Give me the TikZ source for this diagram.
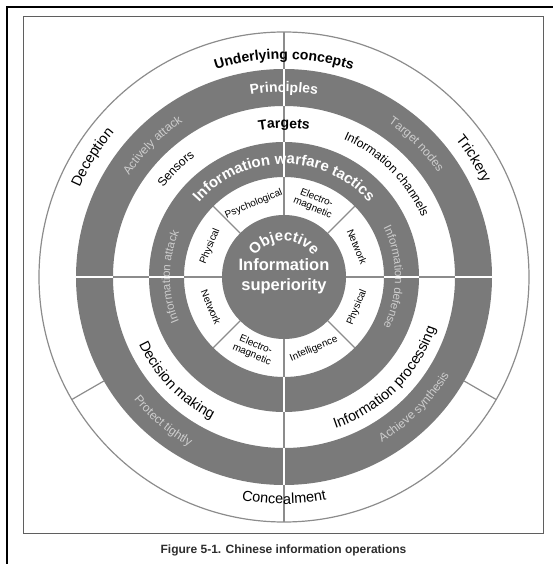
\documentclass[tikz,border=0pt]{standalone}
\usepackage{fontspec}
\setmainfont{Liberation Sans}
\usetikzlibrary{decorations.text}

\definecolor{ringgray}{RGB}{122,122,122}
\definecolor{linegray}{RGB}{140,140,140}
\definecolor{softlabel}{RGB}{205,205,205}
\definecolor{framegray}{RGB}{95,95,95}
\definecolor{captiongray}{RGB}{45,45,45}

\newcommand\fntHead{\fontsize{14}{16}\selectfont\bfseries}
\newcommand\fntWhite{\color{white}\fontsize{14}{16}\selectfont\bfseries}
\newcommand\fntTactic{\color{white}\fontsize{15}{17}\selectfont\bfseries}
\newcommand\fntBig{\fontsize{14.5}{17}\selectfont}
\newcommand\fntMid{\fontsize{12.2}{14}\selectfont}
\newcommand\fntSoft{\color{softlabel}\fontsize{12}{14}\selectfont}
\newcommand\fntSide{\color{softlabel}\fontsize{11.6}{14}\selectfont}
\newcommand\fntTiny{\fontsize{10}{10.5}\selectfont}

% #1 format, #2 baseline radius (pt), #3 start angle, #4 end angle, #5 text
\newcommand\ringtext[5]{%
  \path[decorate,decoration={text along path,text align=center,text={|#1|#5}}]
    (#3:#2pt) arc[start angle=#3,end angle=#4,radius=#2pt];}

\begin{document}
\begin{tikzpicture}[x=1pt,y=1pt,
    divider/.style={linegray,line width=1.2pt},
    gap/.style={white,line width=1.5pt},
    sector/.style={font=\fntTiny,align=center,inner sep=0pt}]
  \useasboundingbox (-284,-287) rectangle (269,277);

  % page frames
  \draw[line width=1.6pt] (-276.7,-287) -- (-276.7,269.7) -- (269,269.7);
  \draw[framegray,line width=1.3pt] (-260.7,-256.7) rectangle (259.7,260.3);

  % dividers in the white rings
  \draw[divider] (0,0) circle (245);
  \foreach \a in {90,270} \draw[divider] (\a:62) -- (\a:245);
  \foreach \a in {0,180} \draw[divider] (\a:62) -- (\a:208);
  \foreach \a in {45,135,225,315} \draw[divider] (\a:62) -- (\a:100);
  \foreach \a in {210,330} \draw[divider] (\a:208) -- (\a:245);

  % dark rings and centre
  \fill[ringgray,even odd rule] (0,0) circle (208) circle (171)
    circle (135) circle (100) circle (62);
  \foreach \a in {0,90,180,270} {
    \draw[gap] (\a:171) -- (\a:208);
    \draw[gap] (\a:100) -- (\a:135);
  }

  % outer ring
  \ringtext{\fntHead}{218}{135}{45}{Underlying concepts}
  \ringtext{\fntBig}{223}{178}{118}{Deception}
  \ringtext{\fntBig}{220}{62}{2}{Trickery}
  \ringtext{\fntBig}{227}{240}{300}{Concealment}

  % principles
  \ringtext{\fntWhite}{185}{130}{50}{Principles}
  \ringtext{\fntSoft}{185}{170}{100}{Actively attack}
  \ringtext{\fntSoft}{186}{80}{10}{Target nodes}
  \ringtext{\fntSoft}{194}{195}{265}{Protect tightly}
  \ringtext{\fntSoft}{192}{280}{350}{Achieve synthesis}

  % targets
  \ringtext{\fntHead}{149}{120}{60}{Targets}
  \ringtext{\fntMid}{150}{160}{110}{Sensors}
  \ringtext{\fntMid}{150}{90}{0}{Information channels}
  \ringtext{\fntBig}{160}{180}{268}{Decision making}
  \ringtext{\fntBig}{160}{265}{365}{Information processing}

  % information warfare tactics
  \ringtext{\fntTactic}{113}{180}{0}{Information warfare tactics}
  \ringtext{\fntSide}{114}{225}{135}{Information attack}
  \ringtext{\fntSide}{111}{45}{-45}{Information defense}

  % sectors
  \node[sector,rotate=22.5]  (psy1)   at (112.5:79) {Psychological};
  \node[sector,rotate=-22.5] (em1)    at (67.5:80)  {Electro-\\magnetic};
  \node[sector,rotate=-67.5] (net1)   at (22.5:79)  {Network};
  \node[sector,rotate=67.5]  (phy1)   at (157.5:80) {Physical};
  \node[sector,rotate=-67.5] (net2)   at (202.5:79) {Network};
  \node[sector,rotate=-22.5] (em2)    at (247.5:79) {Electro-\\magnetic};
  \node[sector,rotate=22.5]  (intel)  at (292.5:78) {Intelligence};
  \node[sector,rotate=67.5]  (phy2)   at (337.5:79) {Physical};

  % objective
  \ringtext{\fntTactic}{36}{180}{0}{Objective}
  \node[white,font=\fontsize{16.5}{20}\selectfont\bfseries,align=center]
    (superiority) at (0,1) {Information\\superiority};

  % caption
  \node[captiongray,font=\fontsize{12}{14}\selectfont\bfseries]
    (caption) at (-0.5,-273) {Figure 5-1. Chinese information operations};
\end{tikzpicture}
\end{document}
